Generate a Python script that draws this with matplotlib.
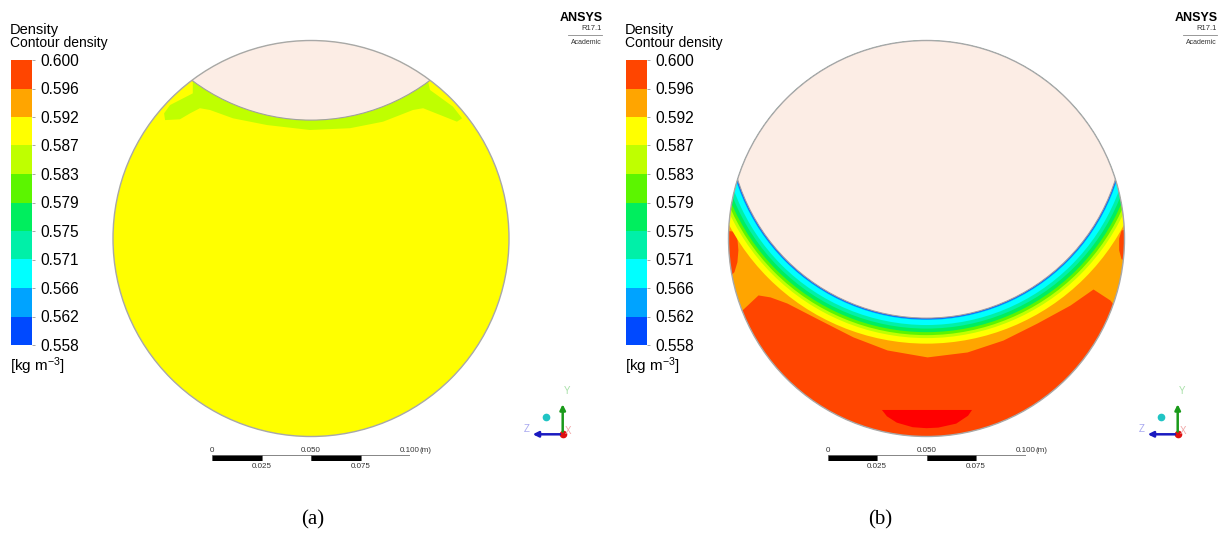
import numpy as np
import matplotlib.pyplot as plt
from matplotlib.patches import Circle, Polygon, Rectangle
from matplotlib.colors import ListedColormap, BoundaryNorm
from matplotlib.cm import ScalarMappable

plt.rcParams['font.family'] = ['Liberation Sans', 'DejaVu Sans']
plt.rcParams['mathtext.default'] = 'regular'

W, H = 1223, 541

# legend levels [kg m^-3] and their colours (low -> high)
levels = [0.558, 0.562, 0.566, 0.571, 0.575, 0.579, 0.583, 0.587, 0.592, 0.596, 0.600]
level_colors = ['#0049ff', '#00a3ff', '#00ffff', '#00f0a8', '#00ee5e',
                '#5cf500', '#bfff00', '#ffff00', '#ffa500', '#ff4500']
over_color = '#ff0000'
gas_color = '#fcede5'

# geometry in mm
pipe_r = 100.0
bubble_r = 100.0

# (a) bubble centre height and the 0.583-0.587 band below the interface
a_bubble_y = 159.8
a_band_x = [-59.7, -59.7, -71.2, -74.2, -73.7, -66.2, -61.1, -56.1, -51.0, -39.4, -22.2,
            -0.5, 19.7, 36.4, 51.5, 56.6, 65.2, 73.7, 76.3, 71.7, 63.6, 60.1, 59.1, 40.0, -40.0]
a_band_y = [79.5, 73.3, 67.4, 63.2, 59.8, 60.2, 63.2, 65.8, 64.9, 60.7, 57.3,
            54.8, 55.7, 59.0, 64.9, 65.8, 62.4, 59.0, 60.7, 66.6, 72.5, 75.0, 79.5, 100.0, 100.0]

# (b) bubble centre height, band thickness below the interface (0.558 ... 0.592 bands)
b_bubble_y = 59.8
b_band_offsets = [0.5, 0.9, 3.5, 5.3, 7.1, 8.6, 10.1, 12.9]
# boundary between 0.592-0.596 and 0.596-0.600
b_hot_x = [-106.0, -93.2, -85.1, -79.0, -70.5, -53.8, -37.1, -19.9, 0.3, 20.5, 38.6,
           55.8, 72.5, 84.1, 92.7, 95.7, 106.0]
b_hot_y = [-36.1, -36.1, -28.5, -29.5, -32.6, -41.2, -49.7, -56.3, -59.8, -57.3, -51.3,
           -42.7, -33.6, -25.5, -31.1, -35.1, -35.1]
# small 0.596-0.600 pockets on the wall
b_left_x = [-102.0, -97.5, -95.5, -95.0, -95.5, -97.0, -99.0, -102.0]
b_left_y = [4.0, 3.5, 0.0, -6.0, -12.0, -17.0, -19.0, -19.0]
b_right_x = [102.0, 98.5, 97.3, 97.3, 98.5, 102.0]
b_right_y = [5.0, 4.0, 0.0, -6.0, -10.5, -11.5]
# region above 0.600 near the bottom
b_spot_x = [-22.5, 23.0, 21.0, 15.0, 6.0, 0.0, -7.0, -15.0, -20.0]
b_spot_y = [-86.6, -86.6, -89.5, -93.5, -95.5, -95.8, -95.3, -93.0, -89.8]

scale_ticks = [0, 0.025, 0.050, 0.075, 0.100]
scale_labels = ['0', '0.025', '0.050', '0.075', '0.100']
captions = ['(a)', '(b)']

PX_MM = 1.98
CY = 238.5
panel_cx = [311.0, 926.5]


def px_box(x0, y0, w, h):
    return [x0 / W, 1 - (y0 + h) / H, w / W, h / H]


def field_axes(fig, cx):
    half = 106 * PX_MM
    ax = fig.add_axes(px_box(cx - half, CY - half, 2 * half, 2 * half))
    ax.set_xlim(-106, 106)
    ax.set_ylim(-106, 106)
    ax.axis('off')
    pipe = Circle((0, 0), pipe_r, transform=ax.transData)
    return ax, pipe


def add_clipped(ax, patch, pipe):
    ax.add_patch(patch)
    patch.set_clip_path(pipe)


def outline(ax, pipe, bubble_y):
    add_clipped(ax, Circle((0, bubble_y), bubble_r, facecolor=gas_color,
                           edgecolor='#a0a0a0', lw=0.8), pipe)
    ax.add_patch(Circle((0, 0), pipe_r, fill=False, edgecolor='#a8a8a8', lw=1.0))


def draw_a(fig):
    ax, pipe = field_axes(fig, panel_cx[0])
    ax.add_patch(Circle((0, 0), pipe_r, color=level_colors[7], lw=0))
    add_clipped(ax, Polygon(np.column_stack([a_band_x, a_band_y]), closed=True,
                            color=level_colors[6], lw=0), pipe)
    outline(ax, pipe, a_bubble_y)


def draw_b(fig):
    ax, pipe = field_axes(fig, panel_cx[1])
    ax.add_patch(Circle((0, 0), pipe_r, color=level_colors[8], lw=0))
    hot = ax.fill_between(b_hot_x, -110, b_hot_y, color=level_colors[9], lw=0)
    hot.set_clip_path(pipe)
    for xs, ys, c in [(b_left_x, b_left_y, level_colors[9]),
                      (b_right_x, b_right_y, level_colors[9]),
                      (b_spot_x, b_spot_y, over_color)]:
        add_clipped(ax, Polygon(np.column_stack([xs, ys]), closed=True, color=c, lw=0), pipe)
    # bands follow the interface, paint from the outermost one inwards
    for k in range(len(b_band_offsets) - 1, -1, -1):
        add_clipped(ax, Circle((0, b_bubble_y), bubble_r + b_band_offsets[k],
                               color=level_colors[k], lw=0), pipe)
    outline(ax, pipe, b_bubble_y)


def legend(fig, deco, ox):
    cax = fig.add_axes(px_box(11 + ox, 60, 21, 285))
    sm = ScalarMappable(norm=BoundaryNorm(levels, len(level_colors)),
                        cmap=ListedColormap(level_colors))
    cb = fig.colorbar(sm, cax=cax, spacing='uniform', ticks=levels)
    cb.outline.set_visible(False)
    cax.set_yticklabels([f'{v:.3f}' for v in levels])
    cax.tick_params(length=2.5, width=0.6, labelsize=11.2, pad=3.5, color='#999999')
    deco.text(10 + ox, 30, 'Density', fontsize=10.5, va='center')
    deco.text(10 + ox, 43, 'Contour density', fontsize=10, va='center')
    deco.text(10 + ox, 366, '[kg m$^{-3}$]', fontsize=11, va='center')

    # logo
    deco.text(603 + ox, 18, 'ANSYS', fontsize=9, fontweight='bold', ha='right', va='center')
    deco.text(602 + ox, 29, 'R17.1', fontsize=5.5, ha='right', va='center', color='#333333')
    deco.plot([568 + ox, 602 + ox], [35, 35], color='#888888', lw=0.6)
    deco.text(602 + ox, 42, 'Academic', fontsize=5, ha='right', va='center', color='#333333')


def scale_bar(fig, cx):
    sax = fig.add_axes(px_box(cx - 99, 455, 198, 6))
    sax.set_xlim(scale_ticks[0], scale_ticks[-1])
    sax.set_ylim(0, 1)
    sax.axis('off')
    for i in range(len(scale_ticks) - 1):
        sax.add_patch(Rectangle((scale_ticks[i], 0), scale_ticks[i + 1] - scale_ticks[i], 1,
                                facecolor='black' if i % 2 == 0 else 'white',
                                edgecolor='#555555', lw=0.5))
    for i, (t, lab) in enumerate(zip(scale_ticks, scale_labels)):
        y = 1.8 if i % 2 == 0 else -0.9
        sax.text(t, y, lab, fontsize=5.8, ha='center', va='center', color='#333333', clip_on=False)
    sax.text(scale_ticks[-1] + 0.008, 1.8, '(m)', fontsize=5.8, ha='center', va='center',
             color='#333333', clip_on=False)


def triad(deco, ox):
    x, y = 562.7 + ox, 434.3
    deco.annotate('', xy=(x, 401.5), xytext=(x, y),
                  arrowprops=dict(arrowstyle='-|>', color='#1a9a1a', lw=1.8, mutation_scale=8))
    deco.annotate('', xy=(530 + ox, y), xytext=(x, y),
                  arrowprops=dict(arrowstyle='-|>', color='#1a1ac0', lw=1.8, mutation_scale=8))
    deco.plot([x], [y], 'o', color='#e01010', ms=4.5)
    deco.plot([546 + ox], [417], 'o', color='#20c4c4', ms=4.5)
    deco.text(567 + ox, 390.5, 'Y', fontsize=7, color='#a8e0a8', ha='center', va='center')
    deco.text(526.5 + ox, 429, 'Z', fontsize=7, color='#a8a8f0', ha='center', va='center')
    deco.text(568 + ox, 431, 'X', fontsize=7, color='#f0a8a8', ha='center', va='center')


fig = plt.figure(figsize=(W / 100, H / 100), dpi=100)
deco = fig.add_axes([0, 0, 1, 1], zorder=10)
deco.set_xlim(0, W)
deco.set_ylim(H, 0)
deco.axis('off')

draw_a(fig)
draw_b(fig)
for i, cx in enumerate(panel_cx):
    ox = 0 if i == 0 else 615
    legend(fig, deco, ox)
    scale_bar(fig, cx)
    triad(deco, ox)
    deco.text(cx + (2 if i == 0 else -46), 520, captions[i], fontsize=15,
              family=['Liberation Serif', 'DejaVu Serif'], ha='center', va='center')

fig.savefig('out.png', dpi=100)
